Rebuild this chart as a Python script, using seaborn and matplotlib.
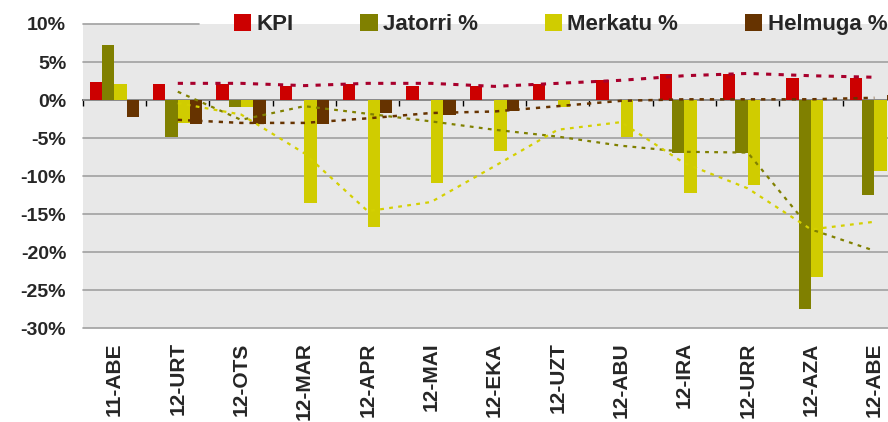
import numpy as np
import pandas as pd
import matplotlib
matplotlib.use('Agg')
import matplotlib.pyplot as plt
import matplotlib.ticker as ticker
import seaborn as sns

# datuak (irudian irakurritakoak)
hilabeteak = ['11-ABE', '12-URT', '12-OTS', '12-MAR', '12-APR', '12-MAI', '12-EKA',
              '12-UZT', '12-ABU', '12-IRA', '12-URR', '12-AZA', '12-ABE']
serieak = ['KPI', 'Jatorri %', 'Merkatu %', 'Helmuga %']
kpi = [2.4, 2.1, 2.1, 1.8, 2.1, 1.8, 1.8, 2.1, 2.6, 3.4, 3.4, 2.9, 2.9]
jatorri = [7.2, -4.8, -0.9, 0, 0, 0, 0, 0, 0, -6.9, -6.9, -27.5, -12.5]
merkatu = [2.1, -3.0, -0.9, -13.5, -16.7, -10.9, -6.7, -0.9, -4.8, -12.2, -11.1, -23.2, -9.3]
helmuga = [-2.2, -3.2, -3.2, -3.2, -1.7, -1.9, -1.4, 0, 0, 0, 0, 0, 0.7]

# joera-lerroak (batez besteko mugikorrak, irudian irakurrita)
kpi_joera = [np.nan, 2.2, 2.2, 1.9, 2.2, 2.2, 1.8, 2.2, 2.6, 3.2, 3.5, 3.2, 3.0]
jatorri_joera = [np.nan, 1.1, -2.6, -0.8, -1.8, -2.8, -3.9, -4.8, -6.0, -6.8, -6.9, -17.0, -19.8]
merkatu_joera = [np.nan, -0.4, -1.9, -7.0, -14.6, -13.4, -8.7, -3.9, -2.9, -8.3, -11.6, -17.0, -16.0]
helmuga_joera = [np.nan, -2.6, -3.0, -3.0, -2.4, -1.7, -1.5, -0.8, -0.1, 0.1, 0.1, 0.1, 0.3]

koloreak = ['#CC0000', '#808000', '#D0CC00', '#663300']
joera_koloreak = ['#A8002C', '#808000', '#D4D000', '#663300']

df = pd.DataFrame({
    'hila': hilabeteak * 4,
    'balioa': kpi + jatorri + merkatu + helmuga,
    'seriea': [s for s in serieak for _ in hilabeteak],
})

sns.set_style('white')
plt.rcParams['font.family'] = ['Liberation Sans', 'DejaVu Sans']
plt.rcParams['font.weight'] = 'bold'

W, H = 888, 422
fig = plt.figure(figsize=(W / 100, H / 100), dpi=100)
ax = fig.add_axes([82.8 / W, (H - 328.3) / H, (906 - 82.8) / W, (328.3 - 24) / H])
ax.set_facecolor('#E8E8E8')

sns.barplot(data=df, x='hila', y='balioa', hue='seriea', hue_order=serieak,
            palette=koloreak, width=0.78, gap=0, saturation=1, linewidth=0,
            errorbar=None, ax=ax, zorder=2)

for v in range(-30, 6, 5):
    ax.axhline(v, color='#A0A0A0', lw=1.2, zorder=0.5, clip_on=False)
ax.axhline(10, xmin=0, xmax=0.141, color='#A0A0A0', lw=1.2, zorder=0.5, clip_on=False)

x = np.arange(len(hilabeteak))
for y, c, lw in zip([kpi_joera, jatorri_joera, merkatu_joera, helmuga_joera],
                    joera_koloreak, [2.2, 1.6, 1.6, 1.8]):
    ax.plot(x, y, color=c, lw=lw, ls=(0, (1.7, 2.4)), zorder=3)

ax.set_xlim(-0.5, 12.5)
ax.set_ylim(-30, 10)
ax.set_yticks(np.arange(-30, 11, 5))
ax.yaxis.set_major_formatter(ticker.FuncFormatter(lambda v, p: f'{v:.0f}%'))
ax.set_xlabel('')
ax.set_ylabel('')
for s in ax.spines.values():
    s.set_visible(False)
ax.tick_params(axis='y', length=0, pad=12, labelsize=14)
ax.tick_params(axis='x', length=0, pad=10, labelsize=15, rotation=90)

# x ardatza 0 mailan, hilabeteen arteko marrekin
sec = ax.secondary_xaxis(0.75)
sec.set_alignment('bottom')
sec.set_xticks(np.arange(-0.5, 13, 1))
sec.set_xticklabels([])
sec.tick_params(direction='out', length=4.5, width=1.0, color='black')
sec.spines['bottom'].set_visible(True)
sec.spines['bottom'].set_color('black')
sec.spines['bottom'].set_linewidth(1.2)

handles, labels = ax.get_legend_handles_labels()
ax.get_legend().remove()
fig.legend(handles, labels, loc='center left', bbox_to_anchor=(234 / W, 1 - 24.5 / H),
           ncol=4, frameon=False, prop={'size': 16, 'weight': 'bold'},
           handlelength=0.77, handleheight=0.77, handletextpad=0.25,
           columnspacing=3.0, borderpad=0, borderaxespad=0)

fig.savefig('out.png', dpi=100)
